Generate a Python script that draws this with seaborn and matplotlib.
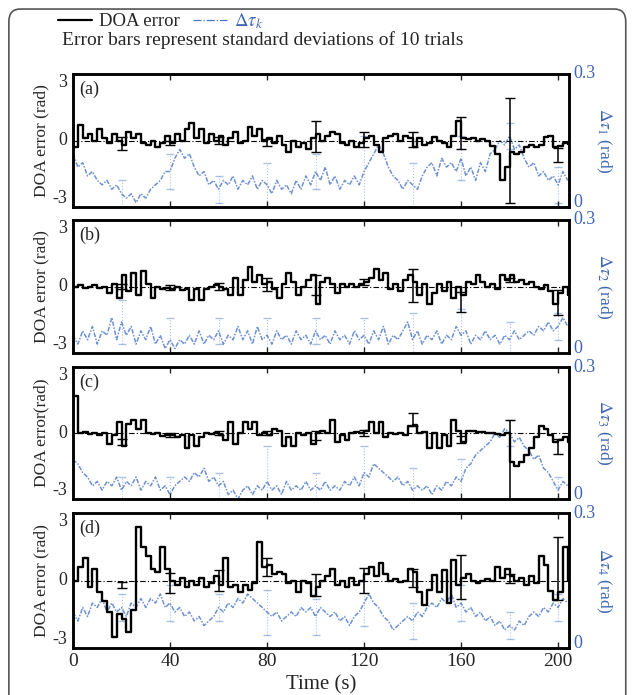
import numpy as np
import pandas as pd
import matplotlib
matplotlib.use("Agg")
import matplotlib.pyplot as plt
from matplotlib.lines import Line2D
from matplotlib.patches import FancyBboxPatch
import seaborn as sns

# time grid (s), one sample every 2 s
t = np.arange(0, 205, 2)

# DOA error (rad)
doa_a = [-0.3, 0.7, 0.1, 0.3, 0.0, 0.5, 0.1, -0.1, 0.3, 0.0,
         -0.2, 0.4, 0.1, 0.3, -0.1, -0.2, 0.0, -0.3, -0.1, 0.2,
         -0.1, 0.3, 0.0, 0.5, 0.8, 0.1, 0.5, -0.1, 0.3, 0.0,
         0.2, -0.2, 0.1, 0.4, -0.1, 0.0, 0.6, 0.2, 0.5, 0.0,
         0.1, -0.1, 0.2, -0.2, -0.5, 0.0, -0.3, -0.1, -0.4, 0.1,
         0.3, 0.0, 0.2, 0.4, 0.3, -0.1, -0.2, 0.0, -0.3, -0.1,
         0.1, 0.2, -0.2, -0.5, 0.1, 0.2, 0.3, 0.0, 0.2, 0.1,
         -0.3, 0.1, -0.2, -0.1, 0.15, 0.0, -0.1, -0.3, 0.2, 0.9,
         0.1, 0.05, 0.1, 0.0, 0.05, 0.0, -0.25, -0.6, -1.8, -1.2,
         -0.5, -0.6, -0.5, -0.3, -0.2, -0.3, -0.2, 0.15, 0.2, -0.3,
         -0.25, -0.1, -0.15]
doa_b = [0.0, 0.05, -0.05, 0.0, 0.05, -0.05, 0.0, -0.3, 0.1, -0.5,
         0.5, -0.2, 0.6, -0.4, 0.7, 0.1, -0.5, 0.0, -0.1, -0.05,
         -0.1, 0.0, -0.15, -0.1, -0.6, -0.1, -0.6, -0.1, 0.0, 0.05,
         0.0, -0.1, -0.4, 0.4, -0.4, 0.3, 0.9, 0.2, 0.5, 0.1,
         0.2, -0.1, -0.5, 0.1, 0.6, 0.2, -0.4, 0.0, 0.3, 0.5,
         -0.8, 0.2, 0.4, 0.1, -0.3, 0.1, 0.0, 0.1, 0.0, 0.1,
         0.2, 0.4, 0.8, 0.3, 0.6, -0.1, 0.1, -0.2, 0.3, 0.5,
         0.2, -0.4, 0.1, -0.8, -0.3, 0.1, -0.2, 0.2, -0.5, 0.0,
         -0.4, 0.2, 0.1, 0.5, 0.2, 0.0, 0.1, -0.1, 0.5, 0.3,
         0.5, 0.2, 0.3, 0.1, 0.2, 0.0, -0.1, 0.05, -0.2, -0.8,
         -0.3, 0.0, -0.4]
doa_c = [1.7, 0.0, 0.05, -0.05, 0.0, -0.1, 0.0, -0.5, -0.1, 0.5,
         -0.6, 0.4, 0.6, 0.2, 0.6, 0.0, -0.05, 0.0, -0.15, -0.1,
         -0.1, -0.2, -0.1, -0.7, -0.1, -0.6, -0.2, 0.0, -0.05, 0.0,
         -0.1, -0.3, 0.5, -0.5, 0.0, 0.5, 0.2, 0.5, -0.1, 0.0,
         -0.1, 0.2, 0.1, -0.6, -0.2, -0.6, 0.0, -0.1, 0.0, -0.5,
         0.0, 0.1, 0.0, 0.6, -0.4, -0.1, -0.3, 0.0, 0.05, 0.0,
         0.1, 0.5, 0.0, 0.5, -0.2, 0.0, -0.05, 0.0, -0.1, 0.3,
         0.35, 0.0, 0.05, -0.7, 0.0, -0.7, -0.1, -0.6, 0.6, 0.1,
         -0.4, 0.1, 0.1, 0.05, 0.05, 0.0, 0.0, -0.05, -0.1, 0.0,
         -1.3, -1.5, -1.3, -1.0, -0.7, -0.2, 0.3, 0.2, -0.1, -0.4,
         -0.3, -0.2, -0.4]
doa_d = [0.0, 0.6, 1.0, -0.3, 0.5, -0.5, -0.9, -1.4, -2.5, -1.5,
         -1.7, -2.3, -1.3, 2.4, 1.5, 1.1, 0.5, 0.4, 1.5, 0.5,
         0.0, -0.2, 0.1, -0.3, 0.0, -0.2, 0.1, -0.3, -0.1, 0.2,
         -0.2, 1.0, -0.3, -0.2, -0.5, -0.2, -0.4, -0.1, 1.7, 0.6,
         0.7, 0.3, 0.4, 0.3, -0.1, 0.0, -0.5, 0.0, -0.1, -0.7,
         -0.3, 0.0, 0.2, 0.5, -0.2, 0.0, -0.3, 0.1, -0.2, 0.0,
         0.3, 0.6, 0.2, 0.8, 0.3, 0.0, 0.05, -0.05, 0.0, 0.5,
         0.4, -0.5, -1.1, -0.4, 0.25, -0.5, 0.45, -1.0, 0.9, -0.2,
         0.1, 0.3, 0.0, -0.1, 0.0, 0.05, 0.0, 0.6, 0.1, 0.5,
         0.2, 0.0, 0.1, -0.2, 0.2, -0.1, 1.1, 0.7, -0.45, -0.85,
         -0.5, 1.5, 0.0]

# delta tau_k (rad)
tau_a = [0.12, 0.09, 0.10, 0.07, 0.08, 0.06, 0.05, 0.06, 0.04, 0.05,
         0.03, 0.02, 0.03, 0.01, 0.03, 0.02, 0.04, 0.05, 0.06, 0.08,
         0.08, 0.11, 0.13, 0.11, 0.12, 0.09, 0.07, 0.08, 0.05, 0.06,
         0.04, 0.06, 0.05, 0.07, 0.04, 0.06, 0.05, 0.07, 0.04, 0.06,
         0.05, 0.03, 0.06, 0.04, 0.05, 0.03, 0.06, 0.04, 0.07, 0.05,
         0.08, 0.06, 0.09, 0.05, 0.07, 0.04, 0.06, 0.05, 0.07, 0.05,
         0.08, 0.10, 0.12, 0.14, 0.12, 0.09, 0.07, 0.06, 0.04, 0.06,
         0.05, 0.04, 0.07, 0.09, 0.10, 0.07, 0.11, 0.09, 0.10, 0.08,
         0.11, 0.07, 0.09, 0.06, 0.10, 0.08, 0.12, 0.13, 0.15, 0.14,
         0.16, 0.13, 0.14, 0.11, 0.09, 0.10, 0.07, 0.08, 0.06, 0.07,
         0.05, 0.08, 0.06]
tau_b = [0.04, 0.02, 0.05, 0.03, 0.06, 0.02, 0.05, 0.04, 0.08, 0.03,
         0.07, 0.04, 0.06, 0.02, 0.05, 0.03, 0.06, 0.02, 0.04, 0.01,
         0.03, 0.01, 0.03, 0.02, 0.04, 0.02, 0.05, 0.02, 0.04, 0.03,
         0.05, 0.02, 0.04, 0.03, 0.06, 0.03, 0.05, 0.02, 0.06, 0.03,
         0.04, 0.02, 0.05, 0.03, 0.04, 0.02, 0.05, 0.03, 0.04, 0.02,
         0.05, 0.03, 0.04, 0.02, 0.05, 0.03, 0.04, 0.02, 0.05, 0.03,
         0.04, 0.02, 0.05, 0.03, 0.06, 0.02, 0.04, 0.03, 0.05, 0.07,
         0.03, 0.05, 0.02, 0.04, 0.03, 0.05, 0.02, 0.04, 0.03, 0.06,
         0.04, 0.05, 0.02, 0.04, 0.03, 0.05, 0.03, 0.04, 0.02, 0.04,
         0.03, 0.05, 0.03, 0.04, 0.05, 0.04, 0.06, 0.05, 0.07, 0.05,
         0.06, 0.08, 0.06]
tau_c = [0.09, 0.08, 0.06, 0.05, 0.03, 0.04, 0.02, 0.04, 0.03, 0.05,
         0.02, 0.04, 0.03, 0.05, 0.02, 0.04, 0.03, 0.05, 0.02, 0.03,
         0.01, 0.03, 0.04, 0.05, 0.04, 0.06, 0.05, 0.07, 0.04, 0.05,
         0.03, 0.04, 0.01, 0.02, 0.00, 0.02, 0.03, 0.01, 0.03, 0.02,
         0.04, 0.02, 0.03, 0.01, 0.04, 0.02, 0.03, 0.02, 0.04, 0.02,
         0.03, 0.02, 0.04, 0.02, 0.03, 0.02, 0.04, 0.03, 0.05, 0.03,
         0.06, 0.05, 0.08, 0.07, 0.06, 0.05, 0.04, 0.05, 0.03, 0.04,
         0.02, 0.03, 0.02, 0.03, 0.01, 0.03, 0.02, 0.04, 0.03, 0.05,
         0.04, 0.07, 0.08, 0.10, 0.11, 0.12, 0.13, 0.15, 0.14, 0.16,
         0.15, 0.13, 0.14, 0.12, 0.11, 0.09, 0.10, 0.07, 0.06, 0.04,
         0.02, 0.04, 0.03]
tau_d = [0.08, 0.06, 0.09, 0.07, 0.10, 0.09, 0.11, 0.08, 0.10, 0.08,
         0.09, 0.07, 0.10, 0.09, 0.11, 0.09, 0.11, 0.10, 0.12, 0.09,
         0.10, 0.08, 0.09, 0.07, 0.08, 0.06, 0.07, 0.05, 0.06, 0.07,
         0.09, 0.08, 0.10, 0.09, 0.11, 0.10, 0.12, 0.11, 0.10, 0.09,
         0.08, 0.07, 0.08, 0.06, 0.07, 0.08, 0.07, 0.09, 0.08, 0.09,
         0.07, 0.09, 0.08, 0.07, 0.08, 0.06, 0.07, 0.05, 0.07, 0.08,
         0.10, 0.12, 0.10, 0.09, 0.07, 0.06, 0.04, 0.05, 0.06, 0.07,
         0.06, 0.08, 0.07, 0.09, 0.10, 0.09, 0.11, 0.10, 0.12, 0.09,
         0.10, 0.08, 0.09, 0.07, 0.08, 0.06, 0.07, 0.05, 0.06, 0.04,
         0.05, 0.04, 0.06, 0.05, 0.07, 0.08, 0.07, 0.09, 0.08, 0.10,
         0.09, 0.11, 0.10]

# error bars (std of 10 trials) every 20 s
err_t = [20, 40, 60, 80, 100, 120, 140, 160, 180, 200]
err_mid_a = [-0.15, -0.1, 0.0, -0.1, 0.2, 0.05, 0.05, 0.33, -0.47, -0.65]
err_len_a = [0.3, 0.1, 0.15, 0.15, 0.7, 0.35, 0.35, 0.73, 2.37, 0.3]
err_mid_b = [0.0, -0.05, 0.0, 0.1, 0.05, 0.2, 0.05, -0.7, 0.3, -0.72]
err_len_b = [0.1, 0.1, 0.15, 0.3, 0.45, 0.15, 0.75, 0.45, 0.1, 0.57]
err_mid_c = [-0.4, -0.1, 0.0, 0.0, -0.1, 0.0, 0.6, -0.3, -1.2, -0.6]
err_len_c = [0.15, 0.1, 0.1, 0.1, 0.2, 0.15, 0.3, 0.15, 1.8, 0.35]
err_mid_d = [-0.2, -0.1, 0.0, 0.6, -0.2, 0.0, 0.1, 0.17, 0.1, 0.55]
err_len_d = [0.15, 0.45, 0.45, 0.4, 0.5, 0.55, 0.4, 0.97, 0.2, 1.4]
tau_err_a = [0.03, 0.04, 0.03, 0.05, 0.04, 0.08, 0.05, 0.05, 0.03, 0.04]
tau_err_b = [0.05, 0.05, 0.03, 0.04, 0.03, 0.04, 0.06, 0.06, 0.04, 0.03]
tau_err_c = [0.03, 0.04, 0.03, 0.08, 0.03, 0.06, 0.05, 0.05, 0.03, 0.03]
tau_err_d = [0.03, 0.04, 0.03, 0.05, 0.04, 0.05, 0.04, 0.04, 0.03, 0.03]

panel_tags = ["(a)", "(b)", "(c)", "(d)"]
left_labels = ["DOA error (rad)", "DOA error (rad)", "DOA error(rad)", "DOA error (rad)"]
right_labels = [r"$\Delta\tau_1$ (rad)", r"$\Delta\tau_2$ (rad)",
                r"$\Delta\tau_3$ (rad)", r"$\Delta\tau_4$ (rad)"]
xticks = [0, 40, 80, 120, 160, 200]

sns.set_style("ticks")
plt.rcParams["font.family"] = ["Liberation Serif", "DejaVu Serif"]
plt.rcParams["mathtext.fontset"] = "stix"

blue = "#4a76c6"
blue_txt = "#3e66b4"

fig = plt.figure(figsize=(6.34, 6.95), dpi=100)

# rounded frame round the whole figure (bottom edge runs off the page)
fig.patches.append(FancyBboxPatch((0.014, -0.02), 0.973, 1.007,
                                  boxstyle="round,pad=0,rounding_size=0.018",
                                  transform=fig.transFigure, fill=False,
                                  edgecolor="#555555", linewidth=1.2))

panels = [(doa_a, tau_a, err_mid_a, err_len_a, tau_err_a),
          (doa_b, tau_b, err_mid_b, err_len_b, tau_err_b),
          (doa_c, tau_c, err_mid_c, err_len_c, tau_err_c),
          (doa_d, tau_d, err_mid_d, err_len_d, tau_err_d)]
# axes boxes in pixels (top, bottom)
boxes = [(74, 207), (220, 353), (367, 499), (513, 648)]
W, H = 634, 695
x0, x1 = 73, 569

for i, (doa, tau, emid, elen, terr) in enumerate(panels):
    top, bot = boxes[i]
    ax = fig.add_axes([x0 / W, 1 - bot / H, (x1 - x0) / W, (bot - top) / H])
    ax2 = ax.twinx()
    df = pd.DataFrame({"t": t, "doa": doa, "tau": tau})

    sns.lineplot(data=df, x="t", y="tau", ax=ax2, color=blue, lw=1.1,
                 linestyle=(0, (3, 1, 1, 1)), alpha=0.8)
    tau_at = df.set_index("t").loc[err_t, "tau"].values
    eb2 = ax2.errorbar(err_t, tau_at, yerr=terr, fmt="none", ecolor=blue,
                       elinewidth=0.8, capsize=3, alpha=0.45)
    eb2[2][0].set_linestyle(":")

    ax.axhline(0, color="k", lw=0.8, ls=(0, (5, 2, 1, 2)), zorder=1)
    sns.lineplot(data=df, x="t", y="doa", ax=ax, color="k", lw=1.7,
                 drawstyle="steps-post")
    ax.errorbar(err_t, emid, yerr=elen, fmt="none", ecolor="k",
                elinewidth=1.1, capsize=3.5)

    ax.set_zorder(ax2.get_zorder() + 1)
    ax.patch.set_visible(False)

    ax.set_xlim(0, 204.5)
    ax.set_ylim(-3, 3)
    ax2.set_ylim(0, 0.3)
    ax.set_yticks([-3, 0, 3])
    ax.set_yticklabels(["-3", "0", "3"], fontsize=13)
    ax2.set_yticks([0, 0.3])
    ax2.set_yticklabels(["0", "0.3"], fontsize=13, color=blue_txt)
    # keep end labels inside the panel height so neighbours don't collide
    for lab, va in zip(ax.get_yticklabels(), ["bottom", "center", "top"]):
        lab.set_va(va)
    for lab, va in zip(ax2.get_yticklabels(), ["baseline", "center"]):
        lab.set_va(va)
    ax.set_xticks(xticks)
    ax.tick_params(axis="x", direction="in", top=True, length=4, width=1)
    ax.tick_params(axis="y", direction="in", length=0, pad=4)
    ax2.tick_params(axis="y", direction="in", length=0, pad=3)

    ax.set_xlabel("")
    ax.set_ylabel(left_labels[i], fontsize=12.5, labelpad=2)
    ax2.set_ylabel(right_labels[i], fontsize=12.5, color=blue_txt,
                   rotation=270, labelpad=13)
    if i < 3:
        ax.set_xticklabels([])
    else:
        ax.set_xticklabels([str(v) for v in xticks], fontsize=14)
        ax.set_xlabel("Time (s)", fontsize=15, labelpad=4)
    for a in (ax, ax2):
        for s in a.spines.values():
            s.set_linewidth(1.8)
            s.set_color("k")
    ax.text(0.012, 0.95, panel_tags[i], transform=ax.transAxes,
            fontsize=13, va="top", ha="left")

handles = [Line2D([], [], color="k", lw=1.6),
           Line2D([], [], color=blue, lw=0.9, ls="-.")]
leg = fig.legend(handles, ["DOA error", r"$\Delta\tau_k$"], loc="center left",
                 bbox_to_anchor=(58 / W, 1 - 21 / H), ncol=2, frameon=False,
                 fontsize=13.5, handlelength=1.8, columnspacing=0.7,
                 handletextpad=0.4, borderpad=0, borderaxespad=0)
leg.get_texts()[1].set_color(blue_txt)
fig.text(62 / W, 1 - 40 / H, "Error bars represent standard deviations of 10 trials",
         fontsize=14, va="center", ha="left")

fig.savefig("out.png", dpi=100)
